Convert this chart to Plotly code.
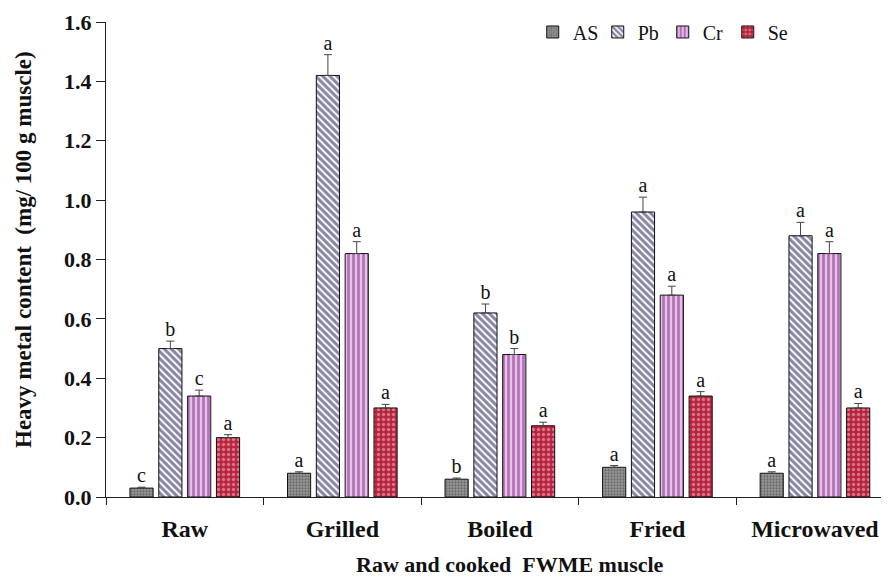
import plotly.graph_objects as go

categories = ["Raw", "Grilled", "Boiled", "Fried", "Microwaved"]
series_names = ["AS", "Pb", "Cr", "Se"]

as_vals = [0.03, 0.08, 0.06, 0.10, 0.08]
pb_vals = [0.50, 1.42, 0.62, 0.96, 0.88]
cr_vals = [0.34, 0.82, 0.48, 0.68, 0.82]
se_vals = [0.20, 0.30, 0.24, 0.34, 0.30]

as_err = [0.003, 0.005, 0.004, 0.006, 0.005]
pb_err = [0.025, 0.07, 0.03, 0.05, 0.045]
cr_err = [0.02, 0.04, 0.02, 0.03, 0.04]
se_err = [0.01, 0.012, 0.012, 0.015, 0.015]

as_letters = ["c", "a", "b", "a", "a"]
pb_letters = ["b", "a", "b", "a", "a"]
cr_letters = ["c", "a", "b", "a", "a"]
se_letters = ["a", "a", "a", "a", "a"]

y_ticks = [0.0, 0.2, 0.4, 0.6, 0.8, 1.0, 1.2, 1.4, 1.6]
x_title = "Raw and cooked  FWME muscle"
y_title = "Heavy metal content  (mg/ 100 g muscle)"

SERIF = "Liberation Serif, Times New Roman, serif"
SLOT = 0.183   # spacing between bars in a group (category units)
BAR_W = 0.147  # bar width (category units)
PAGE_PAD = 8   # default body margin of the html page

styles = [
    dict(shape=".", bgcolor="#9a9a9a", fgcolor="#3a3a3a", size=3, solidity=0.45),
    dict(shape="\\", bgcolor="#ffffff", fgcolor="#10104a", size=5, solidity=0.62),
    dict(shape="|", bgcolor="#e6c2e6", fgcolor="#7e2486", size=5, solidity=0.55),
    dict(shape=".", bgcolor="#b8243f", fgcolor="#f4c8d0", size=5, solidity=0.35),
]

all_vals = [as_vals, pb_vals, cr_vals, se_vals]
all_err = [as_err, pb_err, cr_err, se_err]
all_letters = [as_letters, pb_letters, cr_letters, se_letters]

fig = go.Figure()
idx = list(range(len(categories)))
for k, name in enumerate(series_names):
    off = (k - 1.5) * SLOT
    xs = [i + off for i in idx]
    fig.add_trace(go.Bar(
        x=xs, y=all_vals[k], name=name, width=BAR_W,
        marker=dict(pattern=styles[k], line=dict(color="#111111", width=1)),
        error_y=dict(type="data", symmetric=False, array=all_err[k],
                     arrayminus=[0] * len(idx), color="#444444",
                     thickness=1, width=4),
    ))
for k, name in enumerate(series_names):
    off = (k - 1.5) * SLOT
    xs = [i + off for i in idx]
    tops = [v + e for v, e in zip(all_vals[k], all_err[k])]
    fig.add_trace(go.Scatter(
        x=xs, y=tops, mode="text", text=all_letters[k],
        textposition="top center",
        textfont=dict(family=SERIF, size=20, color="#111111"),
        showlegend=False, hoverinfo="skip",
    ))

fig.update_layout(
    width=889 - PAGE_PAD, height=579 - PAGE_PAD,
    margin=dict(l=106 - PAGE_PAD, r=0, t=22 - PAGE_PAD, b=82),
    plot_bgcolor="white", paper_bgcolor="white",
    barmode="overlay",
    font=dict(family=SERIF, color="#111111"),
    legend=dict(orientation="h", x=0.545, y=0.979, xanchor="left", yanchor="middle",
                font=dict(family=SERIF, size=20, color="#111111"),
                entrywidth=20, entrywidthmode="pixels",
                itemwidth=30, bgcolor="rgba(0,0,0,0)", traceorder="normal"),
    annotations=[
        dict(text=f"<b>{x_title}</b>", xref="paper", yref="paper",
             x=0.516, y=-0.143, xanchor="center", yanchor="middle",
             showarrow=False, font=dict(family=SERIF, size=22, color="#111111")),
        dict(text=f"<b>{y_title}</b>", xref="paper", yref="paper",
             x=-0.106, y=0.52, xanchor="center", yanchor="middle", textangle=-90,
             showarrow=False, font=dict(family=SERIF, size=23, color="#111111")),
    ],
)
fig.update_xaxes(
    range=[-0.5, 4.47], tickvals=idx, ticktext=categories, automargin=False,
    ticks="", ticklabelstandoff=10,
    tickfont=dict(family=SERIF, size=24, color="#111111", weight="bold"),
    showline=True, linecolor="#222222", linewidth=1, showgrid=False, zeroline=False,
    minor=dict(tickvals=[i - 0.5 for i in idx], ticks="outside", ticklen=7,
               tickcolor="#222222", showgrid=False),
)
fig.update_yaxes(
    range=[0, 1.6], tickvals=y_ticks, ticktext=[f"{t:.1f}" for t in y_ticks],
    automargin=False,
    ticks="outside", ticklen=9, tickcolor="#222222",
    tickfont=dict(family=SERIF, size=22, color="#111111", weight="bold"),
    showline=True, linecolor="#222222", linewidth=1, showgrid=False, zeroline=False,
)

fig.write_html("out.html")
